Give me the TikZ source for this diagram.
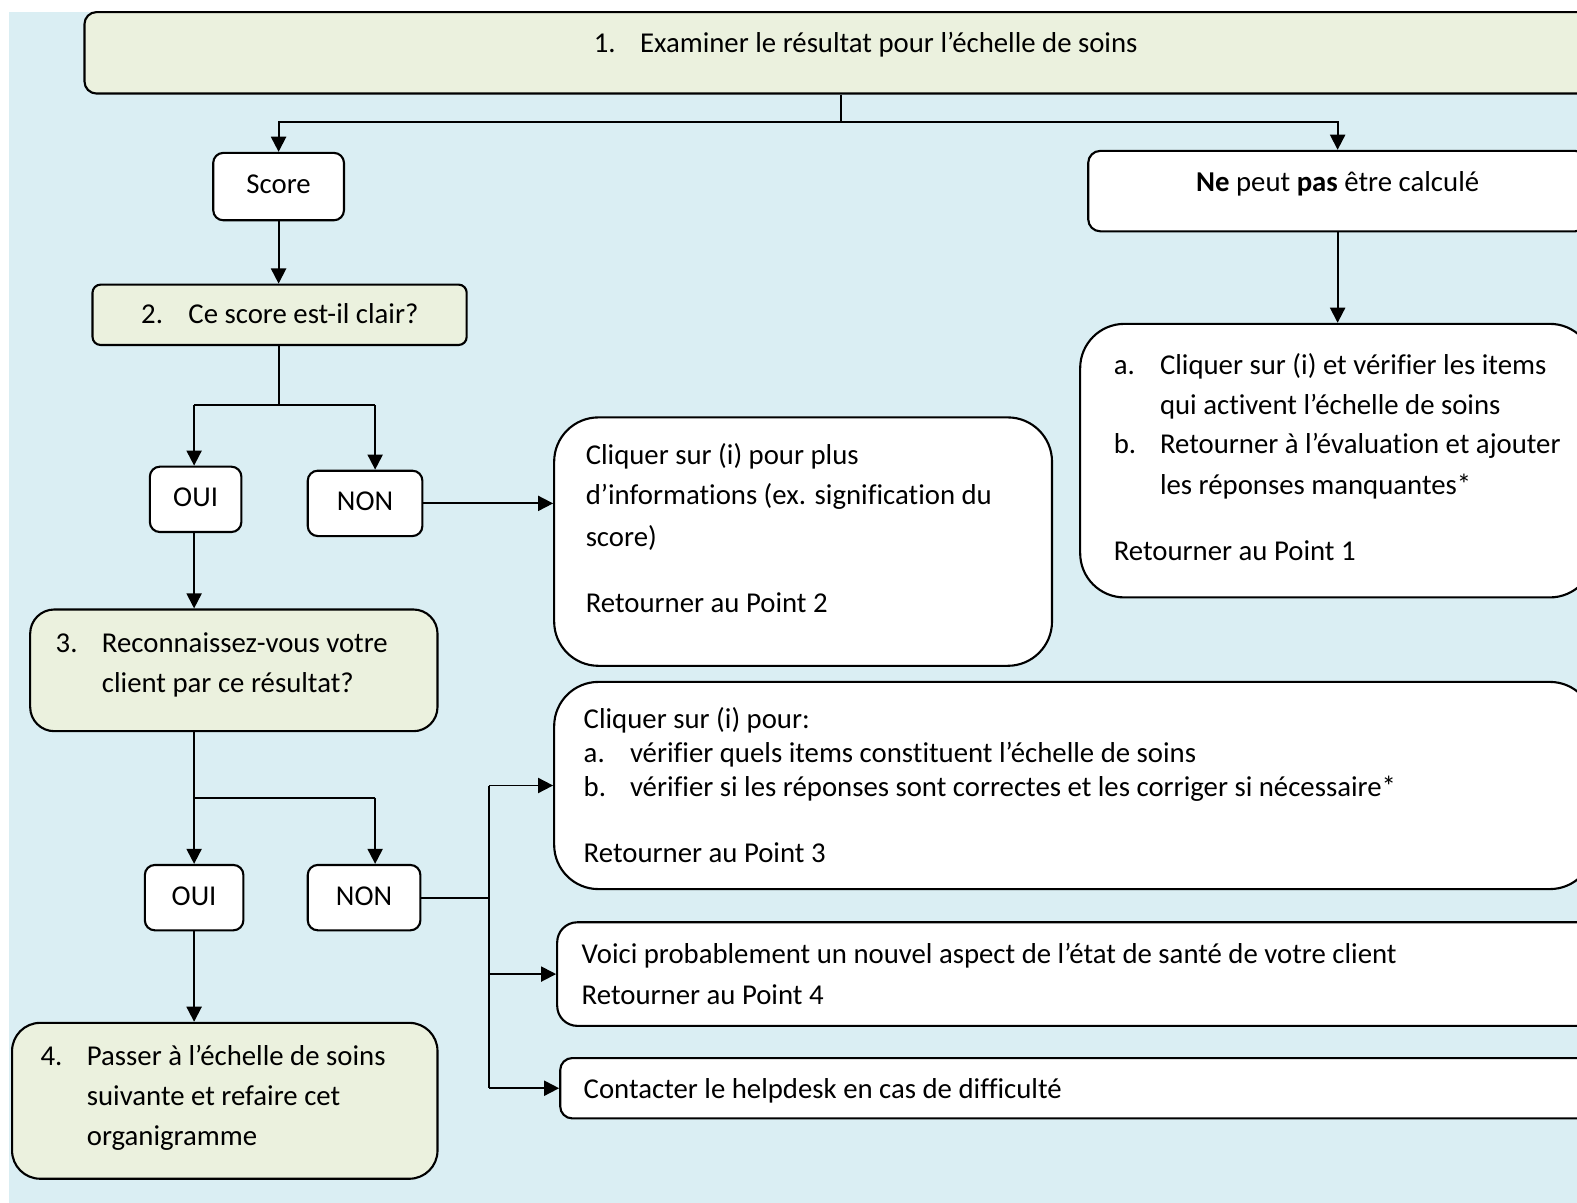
\documentclass[tikz,border=0pt]{standalone}
\usepackage{fontspec}
\setmainfont{Carlito}[Ligatures=CommonOff]
\usetikzlibrary{arrows.meta,fit}
\definecolor{bgblue}{HTML}{DAEEF3}
\definecolor{boxgreen}{HTML}{EBF1DE}
\newcommand\fsz{\fontsize{14.3}{16}\selectfont}
\begin{document}
\begin{tikzpicture}[x=0.5pt,y=-0.5pt,
  box/.style={draw=black, line width=1.05pt, fill=white, inner sep=0pt},
  gbox/.style={box, fill=boxgreen},
  txt/.style={anchor=base west, inner sep=0pt, font=\fsz},
  ctxt/.style={anchor=base, inner sep=0pt, font=\fsz},
  arr/.style={line width=0.95pt, -{Triangle[length=7.5pt,width=7.5pt]}},
  ln/.style={line width=0.95pt}]
\useasboundingbox (0,0) rectangle (1568,1196);
\fill[white] (0,0) rectangle (1568,1196);
\clip (0,0) rectangle (1568,1196);
\fill[bgblue] (9,12) rectangle (1568,1196);

% boxes
\node[gbox, rounded corners=6pt, fit={(84,12) (1620,93)}] (b1) {};
\node[box, rounded corners=5pt, fit={(212,152) (342,219)}] (score) {};
\node[box, rounded corners=6pt, fit={(1082,150) (1578,230)}] (ne) {};
\node[gbox, rounded corners=4pt, fit={(92,283) (464,343)}] (b2) {};
\node[box, rounded corners=5pt, fit={(149,464) (240,529)}] (oui1) {};
\node[box, rounded corners=5pt, fit={(306,468) (420,533)}] (non1) {};
\node[box, rounded corners=22pt, fit={(551,415) (1046,662)}] (info) {};
\node[box, rounded corners=22pt, fit={(1074,322) (1585,594)}] (calc) {};
\node[gbox, rounded corners=12pt, fit={(30,606) (435,727)}] (b3) {};
\node[box, rounded corners=22pt, fit={(551,678) (1585,884)}] (verif) {};
\node[box, rounded corners=5pt, fit={(144,860) (242,925)}] (oui2) {};
\node[box, rounded corners=5pt, fit={(306,860) (418,925)}] (non2) {};
\node[box, rounded corners=10pt, fit={(554,917) (1620,1020)}] (voici) {};
\node[box, rounded corners=6pt, fit={(557,1052) (1620,1112)}] (help) {};
\node[gbox, rounded corners=14pt, fit={(12,1017) (435,1172)}] (b4) {};

% texts
\node[txt] (t1n) at (590,52) {1.};
\node[txt] (t1) at (636,52) {Examiner le résultat pour l’échelle de soins};
\node[ctxt] (tscore) at (277,192) {Score};
\node[ctxt] (tne) at (1330,190) {\textbf{Ne} peut \textbf{pas} être calculé};
\node[txt] (t2n) at (140,322) {2.};
\node[txt] (t2) at (187,322) {Ce score est-il clair?};
\node[ctxt] (toui1) at (194.5,504) {OUI};
\node[ctxt] (tnon1) at (363,508) {NON};
\node[txt] (ti1) at (582,462) {Cliquer sur (i) pour plus};
\node[txt] (ti2) at (582,502) {d’informations (ex. signification du};
\node[txt] (ti3) at (582,543) {score)};
\node[txt] (ti4) at (582,609) {Retourner au Point 2};
\node[txt] (tca) at (1107,372) {a.};
\node[txt] (tc1) at (1153,372) {Cliquer sur (i) et vérifier les items};
\node[txt] (tc2) at (1153,412) {qui activent l’échelle de soins};
\node[txt] (tcb) at (1107,451) {b.};
\node[txt] (tc3) at (1153,451) {Retourner à l’évaluation et ajouter};
\node[txt] (tc4) at (1153,492) {les réponses manquantes*};
\node[txt] (tc5) at (1107,557) {Retourner au Point 1};
\node[txt] (t3n) at (55,649) {3.};
\node[txt] (t3a) at (101,649) {Reconnaissez-vous votre};
\node[txt] (t3b) at (101,689) {client par ce résultat?};
\node[txt] (tv1) at (580,724) {Cliquer sur (i) pour:};
\node[txt] (tva) at (580,758) {a.};
\node[txt] (tv2) at (626,758) {vérifier quels items constituent l’échelle de soins};
\node[txt] (tvb) at (580,792) {b.};
\node[txt] (tv3) at (626,792) {vérifier si les réponses sont correctes et les corriger si nécessaire*};
\node[txt] (tv4) at (580,858) {Retourner au Point 3};
\node[ctxt] (toui2) at (193,900) {OUI};
\node[ctxt] (tnon2) at (362,900) {NON};
\node[txt] (tw1) at (578,958) {Voici probablement un nouvel aspect de l’état de santé de votre client};
\node[txt] (tw2) at (578,999) {Retourner au Point 4};
\node[txt] (th) at (580,1092) {Contacter le helpdesk en cas de difficulté};
\node[txt] (t4n) at (40,1059) {4.};
\node[txt] (t4a) at (86,1059) {Passer à l’échelle de soins};
\node[txt] (t4b) at (86,1099) {suivante et refaire cet};
\node[txt] (t4c) at (86,1139) {organigramme};

% connectors
\coordinate (j1) at (836,121);
\draw[ln] (j1 |- b1.south) -- (j1);
\draw[arr] (j1) -| (score.north);
\draw[arr] (j1) -| (ne.north);
\draw[arr] (score.south) -- (score.south |- b2.north);
\coordinate (j2) at (277,403);
\coordinate (j2a) at (193,403);
\coordinate (j2b) at (373,403);
\draw[ln] (j2 |- b2.south) -- (j2);
\draw[ln] (j2a) -- (j2b);
\draw[arr] (j2a) -- (j2a |- oui1.north);
\draw[arr] (j2b) -- (j2b |- non1.north);
\draw[arr] (non1.east) -- (non1.east -| info.west);
\draw[arr] (j2a |- oui1.south) -- (j2a |- b3.north);
\draw[arr] (ne.south) -- (ne.south |- calc.north);
\coordinate (j3) at (193,793);
\coordinate (j3b) at (373,793);
\draw[ln] (j3 |- b3.south) -- (j3) -- (j3b);
\draw[arr] (j3) -- (j3 |- oui2.north);
\draw[arr] (j3b) -- (j3b |- non2.north);
\draw[arr] (j3 |- oui2.south) -- (j3 |- b4.north);
\coordinate (t) at (486,893);
\draw[ln] (non2.east) -- (non2.east -| t);
\draw[ln] (t |- verif.west) -- (t |- help.west);
\draw[arr] (t |- verif.west) -- (verif.west);
\draw[arr] (t |- voici.west) -- (voici.west);
\draw[arr] (t |- help.west) -- (help.west);
\end{tikzpicture}
\end{document}
